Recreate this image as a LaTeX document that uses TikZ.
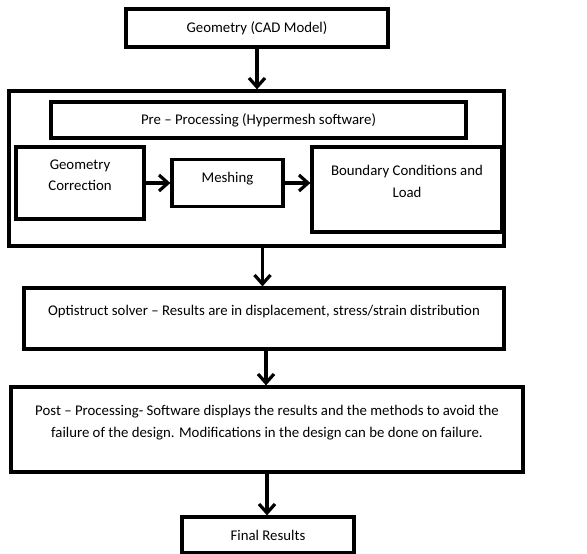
\documentclass[tikz,border=0pt]{standalone}
\usepackage{fontspec}
\setmainfont{Carlito}
\usetikzlibrary{arrows.meta}
\begin{document}
\begin{tikzpicture}[x=1pt,y=-1pt,>={Straight Barb[length=9pt,width=16pt]}]
        \tikzstyle{block}=[rectangle,draw=black,line width=3.2pt,inner sep=0pt,align=center,font=\fontsize{14.8}{21.5}\selectfont]
        \tikzstyle{edge}=[->,line width=3.2pt]
        \useasboundingbox (0,0) rectangle (587,554);
       \begin{scope}
         \node [block,minimum width=262,minimum height=38] (geo) at (257,28) {Geometry (CAD Model)};
         \node [block,minimum width=495,minimum height=155] (pre) at (256.5,168.5) {};
         \node [block,minimum width=415,minimum height=36] (pretitle) at (258.5,120) {Pre -- Processing (Hypermesh software)};
         \node [block,minimum width=128,minimum height=72,text depth=16pt] (fix) at (80,183) {Geometry\\Correction};
         \node [block,minimum width=111,minimum height=47,text depth=11pt] (mesh) at (227.5,183) {Meshing};
         \node [block,minimum width=190,minimum height=85,text depth=16pt] (bc) at (407,189.5) {Boundary Conditions and\\Load};
         \node [block,minimum width=480,minimum height=61,text depth=16pt] (solver) at (264,318.5) {Optistruct solver -- Results are in displacement, stress/strain distribution};
         \node [block,minimum width=512,minimum height=85,text depth=16pt] (post) at (267,429.5) {Post -- Processing- Software displays the results and the methods to avoid the\\failure of the design. Modifications in the design can be done on failure.};
         \node [block,minimum width=172,minimum height=36] (final) at (268,535) {Final Results};

         \draw[edge] (geo) -- (geo |- pre.north);
         \draw[edge] (fix.east) -- (fix.east -| mesh.west);
         \draw[edge] (mesh.east) -- (mesh.east -| bc.west);
         \draw[edge] ([xshift=6pt]pre.south) -- ([xshift=6pt]pre.south |- solver.north);
         \draw[edge] ([xshift=2pt]solver.south) -- ([xshift=2pt]solver.south |- post.north);
         \draw[edge] (post) -- (post |- final.north);
        \end{scope}
      \end{tikzpicture}
\end{document}
